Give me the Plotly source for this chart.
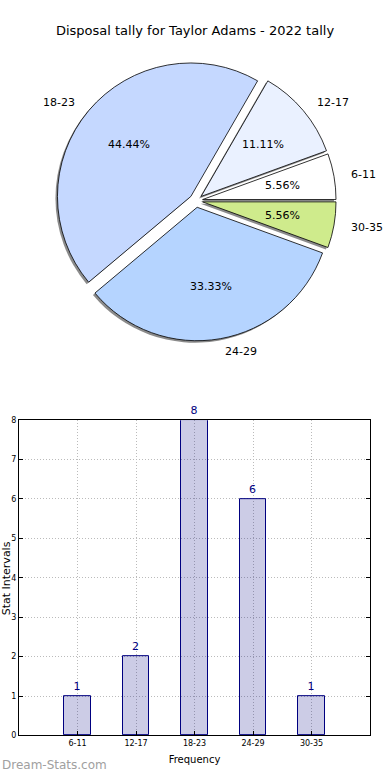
import math
import plotly.graph_objects as go

# ---- data ----
categories = ["6-11", "12-17", "18-23", "24-29", "30-35"]
counts = [1, 2, 8, 6, 1]
pie_colors = ["#FFFFFF", "#EAF1FF", "#C5D8FF", "#B5D4FF", "#CFEB8C"]
pulls = [0.05, 0.05, 0.05, 0.05, 0.05]
y_ticks = [0, 1, 2, 3, 4, 5, 6, 7, 8]

W, H = 390, 780
cx, cy, R = 196, 199, 135
half = R * (1 + max(pulls))
total = sum(counts)
# plotly counterclockwise: first slice ends at 'rotation'; we want it to start at 3 o'clock
rot = 90 - 360 * counts[0] / total


def dom(px, py):
    return dict(x=[(px - half) / W, (px + half) / W],
                y=[1 - (py + half) / H, 1 - (py - half) / H])


fig = go.Figure()

# shadow pie
fig.add_trace(go.Pie(
    labels=categories, values=counts, sort=False, direction="counterclockwise",
    rotation=rot, pull=pulls, textinfo="none", hoverinfo="skip",
    marker=dict(colors=["rgba(110,110,110,0.8)"] * 5, line=dict(width=0)),
    domain=dom(cx - 2, cy + 2), showlegend=False))

# main pie
fig.add_trace(go.Pie(
    labels=categories, values=counts, sort=False, direction="counterclockwise",
    rotation=rot, pull=pulls, textinfo="none",
    marker=dict(colors=pie_colors, line=dict(color="black", width=0.8)),
    domain=dom(cx, cy), showlegend=False))

annotations = []
cum = 0
for lab, v, p in zip(categories, counts, pulls):
    frac = v / total
    mid = math.radians(360 * (cum + frac / 2))
    cum += frac
    c, s = math.cos(mid), math.sin(mid)
    ox, oy = cx + p * R * c, cy - p * R * s
    lx, ly = ox + 1.1 * R * c, oy - 1.1 * R * s
    annotations.append(dict(
        x=lx / W, y=1 - ly / H, xref="paper", yref="paper", text=lab,
        showarrow=False, xanchor="left" if c > 0 else "right", yanchor="middle",
        font=dict(size=11, color="black")))
    tx, ty = ox + 0.6 * R * c, oy - 0.6 * R * s
    annotations.append(dict(
        x=tx / W, y=1 - ty / H, xref="paper", yref="paper",
        text=f"{100 * frac:.2f}%", showarrow=False,
        xanchor="center", yanchor="middle",
        font=dict(size=11, color="black")))

# bar chart (semi-transparent fill so the dotted grid shows through)
fig.add_trace(go.Bar(
    x=categories, y=counts, width=0.45,
    marker=dict(color="rgba(0,0,128,0.2)", line=dict(color="#000080", width=1)),
    text=[str(c) for c in counts], textposition="outside",
    textfont=dict(color="#000080", size=11), cliponaxis=False,
    xaxis="x", yaxis="y", showlegend=False))

annotations.append(dict(
    x=6 / W, y=1 - 581 / H, xref="paper", yref="paper", text="Stat Intervals",
    textangle=-90, showarrow=False, xanchor="center", yanchor="middle",
    font=dict(size=11, color="black")))
annotations.append(dict(
    x=0, y=1 - 770 / H, xref="paper", yref="paper", text="Dream-Stats.com",
    showarrow=False, xanchor="left", yanchor="middle",
    font=dict(size=12, color="#A0A0A0")))

fig.update_layout(
    width=W, height=H, margin=dict(l=0, r=0, t=0, b=0),
    paper_bgcolor="white", plot_bgcolor="white",
    font=dict(family="DejaVu Sans", color="black"),
    title=dict(text="Disposal tally for Taylor Adams - 2022 tally",
               x=0.5, xanchor="center", y=1 - 30 / H, yanchor="middle",
               font=dict(size=13, color="black")),
    annotations=annotations,
    bargap=0,
    xaxis=dict(domain=[19 / W, 370 / W], anchor="y", type="category",
               range=[-1, 5], showline=True, linecolor="black", linewidth=1,
               mirror=True, ticks="inside", ticklen=4, tickcolor="black",
               tickfont=dict(size=8), showgrid=True, gridcolor="#BBBBBB",
               griddash="1px,2px", gridwidth=1,
               title=dict(text="Frequency", font=dict(size=10), standoff=8)),
    yaxis=dict(domain=[1 - 740 / H, 1 - 421 / H], anchor="x",
               range=[0, 8], tickvals=y_ticks, showline=True,
               linecolor="black", linewidth=1, mirror="ticks", ticks="inside",
               ticklen=4, tickcolor="black", tickfont=dict(size=8),
               showgrid=True, gridcolor="#BBBBBB", griddash="1px,2px",
               gridwidth=1, zeroline=False),
)

fig.write_html(
    "out.html",
    config={"displayModeBar": False},
    post_script="document.body.style.margin='0px';document.body.style.overflow='hidden';")
